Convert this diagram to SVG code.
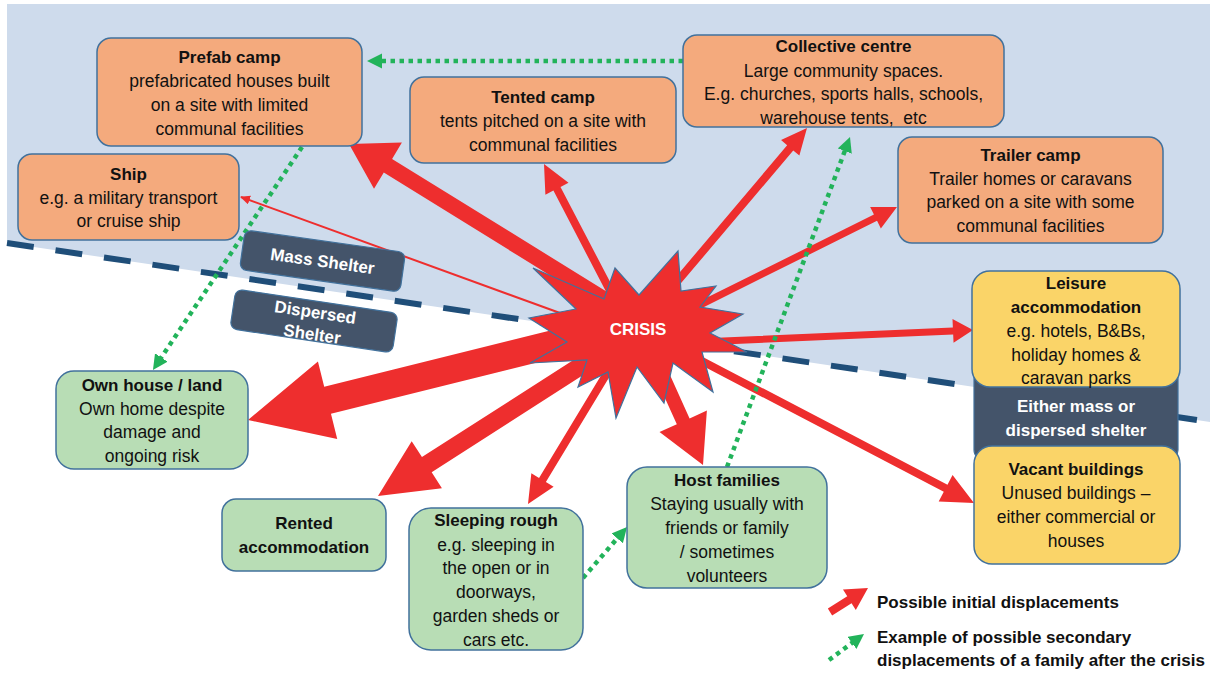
<svg xmlns="http://www.w3.org/2000/svg" width="1210" height="673" viewBox="0 0 1210 673">
<style>
.box{stroke:#41719C;stroke-width:1.5}
.orange{fill:#F4AA7D}
.green{fill:#B8DDB5}
.yellow{fill:#FAD468}
.dark{fill:#44546A;stroke:#41719C;stroke-width:1.2}
.t{font-family:"Liberation Sans",Arial,sans-serif;font-size:17.5px;fill:#111;text-anchor:middle}
.b{font-weight:bold;font-size:17px}
.w{fill:#fff;font-weight:bold;font-size:17px}
.red{fill:#EE2E2E}
.dot{stroke:#22B35A;stroke-width:4.5;stroke-dasharray:4.5 4.5;fill:none}
.leg{font-family:"Liberation Sans",Arial,sans-serif;font-size:17px;font-weight:bold;fill:#111}
</style>
<defs>
<marker id="greenhead" markerUnits="userSpaceOnUse" markerWidth="16" markerHeight="16" refX="7" refY="7.5" orient="auto">
<path d="M0,0 L15,7.5 L0,15 z" fill="#22B35A"/>
</marker>
<marker id="redhead" markerUnits="userSpaceOnUse" markerWidth="12" markerHeight="10" refX="9" refY="4.5" orient="auto">
<path d="M0,0 L10,4.5 L0,9 z" fill="#EE2E2E"/>
</marker>
</defs>
<rect width="1210" height="673" fill="#fff"/>
<polygon points="7,4 1210,4 1210,422 7,243" fill="#CEDBEC"/>
<line x1="7" y1="243" x2="1210" y2="422" stroke="#1F4E79" stroke-width="6" stroke-dasharray="27 22"/>

<g id="connectors">
<polygon class="red" points="614.1,296.2 392.1,158.9 401.9,142.6 349,144 374,188.8 383.8,172.6 605.9,309.9"/>
<polygon class="red" points="618.5,298.1 560.5,187 568.5,182.8 544,164 545.4,194.8 553.4,190.6 611.4,301.9"/>
<polygon class="red" points="673.05,292.58 793.25,150.43 799.36,155.6 807,128 781.04,140.1 787.15,145.27 666.95,287.42"/>
<polygon class="red" points="701.56,308.13 877.06,220.83 880.85,228.45 897,207 870.15,206.95 873.94,214.57 698.44,301.87"/>
<line x1="560" y1="313" x2="241" y2="197" stroke="#EE2E2E" stroke-width="2" marker-end="url(#redhead)"/>
<polygon class="red" points="700.15,345.5 953.17,334.38 953.55,342.87 973,330 952.49,318.89 952.87,327.38 699.85,338.5"/>
<polygon class="red" points="698.15,363.55 943.78,491.75 938.69,501.5 974,503 952.57,474.9 947.48,484.65 701.85,356.45"/>
<polygon class="red" points="653.62,372.89 676.83,424.17 659.53,432 703,465 706.89,410.56 689.59,418.39 666.38,367.11"/>
<polygon class="red" points="611.58,357.93 539.06,477.96 531.35,473.31 528,504 553.61,486.75 545.9,482.1 618.42,362.07"/>
<polygon class="red" points="585.14,352.43 421.95,457.12 411.69,441.13 378,496 441.93,488.25 431.67,472.26 594.86,367.57"/>
<polygon class="red" points="586.62,321.41 324.2,386.63 317.93,361.4 248,420 337.23,439.04 330.96,413.81 593.38,348.59"/>
<line class="dot" x1="683" y1="61" x2="375" y2="61" marker-end="url(#greenhead)"/>
<line class="dot" x1="302" y1="147" x2="157.4" y2="363.3" marker-end="url(#greenhead)"/>
<line class="dot" x1="583" y1="578" x2="621.8" y2="533.1" marker-end="url(#greenhead)"/>
<line class="dot" x1="727" y1="467" x2="847.2" y2="144.5" marker-end="url(#greenhead)"/>
</g>

<g id="crisis">
<polygon points="615,268 639,295 678,251 681,291 716,286 700,307 743,314 710,333 747,352 702,352 713,392 673,363 664,403 637,367 616,418 608,372 578,387 587,360 530,363 567,342 529,318 576,309 533,268 604,299" fill="#EE2E2E" stroke="#41719C" stroke-width="1.2"/>
<text class="t w" x="638" y="335">CRISIS</text>
</g>

<g id="mass-shelter" transform="translate(322.5,261) rotate(8)">
<rect class="dark" x="-81" y="-20" width="162" height="40" rx="7"/>
<text class="t w" x="0" y="6">Mass Shelter</text>
</g>
<g id="dispersed-shelter" transform="translate(314,321) rotate(8.5)">
<rect class="dark" x="-82" y="-20" width="164" height="40" rx="7"/>
<text class="t w" x="0" y="-3">Dispersed</text>
<text class="t w" x="0" y="19">Shelter</text>
</g>

<g id="prefab-camp">
<rect class="box orange" x="97" y="38" width="265" height="108" rx="14"/>
<text class="t b" x="229.5" y="63">Prefab camp</text>
<text class="t" x="229.5" y="87">prefabricated houses built</text>
<text class="t" x="229.5" y="111">on a site with limited</text>
<text class="t" x="229.5" y="135">communal facilities</text>
</g>
<g id="ship">
<rect class="box orange" x="18" y="154" width="221" height="86" rx="14"/>
<text class="t b" x="128.5" y="180">Ship</text>
<text class="t" x="128.5" y="204">e.g. a military transport</text>
<text class="t" x="128.5" y="227">or cruise ship</text>
</g>
<g id="tented-camp">
<rect class="box orange" x="410" y="77" width="266" height="86" rx="14"/>
<text class="t b" x="543" y="103">Tented camp</text>
<text class="t" x="543" y="127">tents pitched on a site with</text>
<text class="t" x="543" y="151">communal facilities</text>
</g>
<g id="collective-centre">
<rect class="box orange" x="683" y="35" width="321" height="92" rx="14"/>
<text class="t b" x="843.5" y="52">Collective centre</text>
<text class="t" x="843.5" y="77">Large community spaces.</text>
<text class="t" x="843.5" y="100">E.g. churches, sports halls, schools,</text>
<text class="t" x="843.5" y="124">warehouse tents,&#160; etc</text>
</g>
<g id="trailer-camp">
<rect class="box orange" x="898" y="137" width="265" height="106" rx="14"/>
<text class="t b" x="1030.5" y="161">Trailer camp</text>
<text class="t" x="1030.5" y="185">Trailer homes or caravans</text>
<text class="t" x="1030.5" y="208">parked on a site with some</text>
<text class="t" x="1030.5" y="232">communal facilities</text>
</g>
<g id="either-shelter">
<rect class="dark" x="974" y="360" width="204" height="100" rx="10"/>
<text class="t w" x="1076" y="412">Either mass or</text>
<text class="t w" x="1076" y="436">dispersed shelter</text>
</g>
<g id="leisure-accommodation">
<rect class="box yellow" x="972" y="271" width="208" height="116" rx="18"/>
<text class="t b" x="1076" y="289">Leisure</text>
<text class="t b" x="1076" y="313">accommodation</text>
<text class="t" x="1076" y="337">e.g. hotels, B&amp;Bs,</text>
<text class="t" x="1076" y="361">holiday homes &amp;</text>
<text class="t" x="1076" y="384">caravan parks</text>
</g>
<g id="vacant-buildings">
<rect class="box yellow" x="974" y="446" width="206" height="118" rx="18"/>
<text class="t b" x="1076" y="475">Vacant buildings</text>
<text class="t" x="1076" y="499">Unused buildings –</text>
<text class="t" x="1076" y="523">either commercial or</text>
<text class="t" x="1076" y="547">houses</text>
</g>
<g id="own-house">
<rect class="box green" x="56" y="371" width="192" height="98" rx="18"/>
<text class="t b" x="152" y="391">Own house / land</text>
<text class="t" x="152" y="415">Own home despite</text>
<text class="t" x="152" y="438">damage and</text>
<text class="t" x="152" y="462">ongoing risk</text>
</g>
<g id="rented-accommodation">
<rect class="box green" x="222" y="499" width="164" height="72" rx="14"/>
<text class="t b" x="304" y="529">Rented</text>
<text class="t b" x="304" y="553">accommodation</text>
</g>
<g id="sleeping-rough">
<rect class="box green" x="409" y="508" width="174" height="142" rx="22"/>
<text class="t b" x="496" y="526">Sleeping rough</text>
<text class="t" x="496" y="551">e.g. sleeping in</text>
<text class="t" x="496" y="574">the open or in</text>
<text class="t" x="496" y="598">doorways,</text>
<text class="t" x="496" y="622">garden sheds or</text>
<text class="t" x="496" y="646">cars etc.</text>
</g>
<g id="host-families">
<rect class="box green" x="627" y="467" width="200" height="121" rx="20"/>
<text class="t b" x="727" y="486">Host families</text>
<text class="t" x="727" y="510">Staying usually with</text>
<text class="t" x="727" y="534">friends or family</text>
<text class="t" x="727" y="558">/ sometimes</text>
<text class="t" x="727" y="582">volunteers</text>
</g>

<g id="legend">
<polygon class="red" points="832.14,615.38 851.54,603.13 855.81,609.9 868,588 842.99,589.6 847.26,596.37 827.86,608.62"/>
<line class="dot" x1="829" y1="660" x2="857.6" y2="638.8" marker-end="url(#greenhead)"/>
<text class="leg" x="877" y="608">Possible initial displacements</text>
<text class="leg" x="877" y="643">Example of possible secondary</text>
<text class="leg" x="877" y="666">displacements of a family after the crisis</text>
</g>
</svg>
